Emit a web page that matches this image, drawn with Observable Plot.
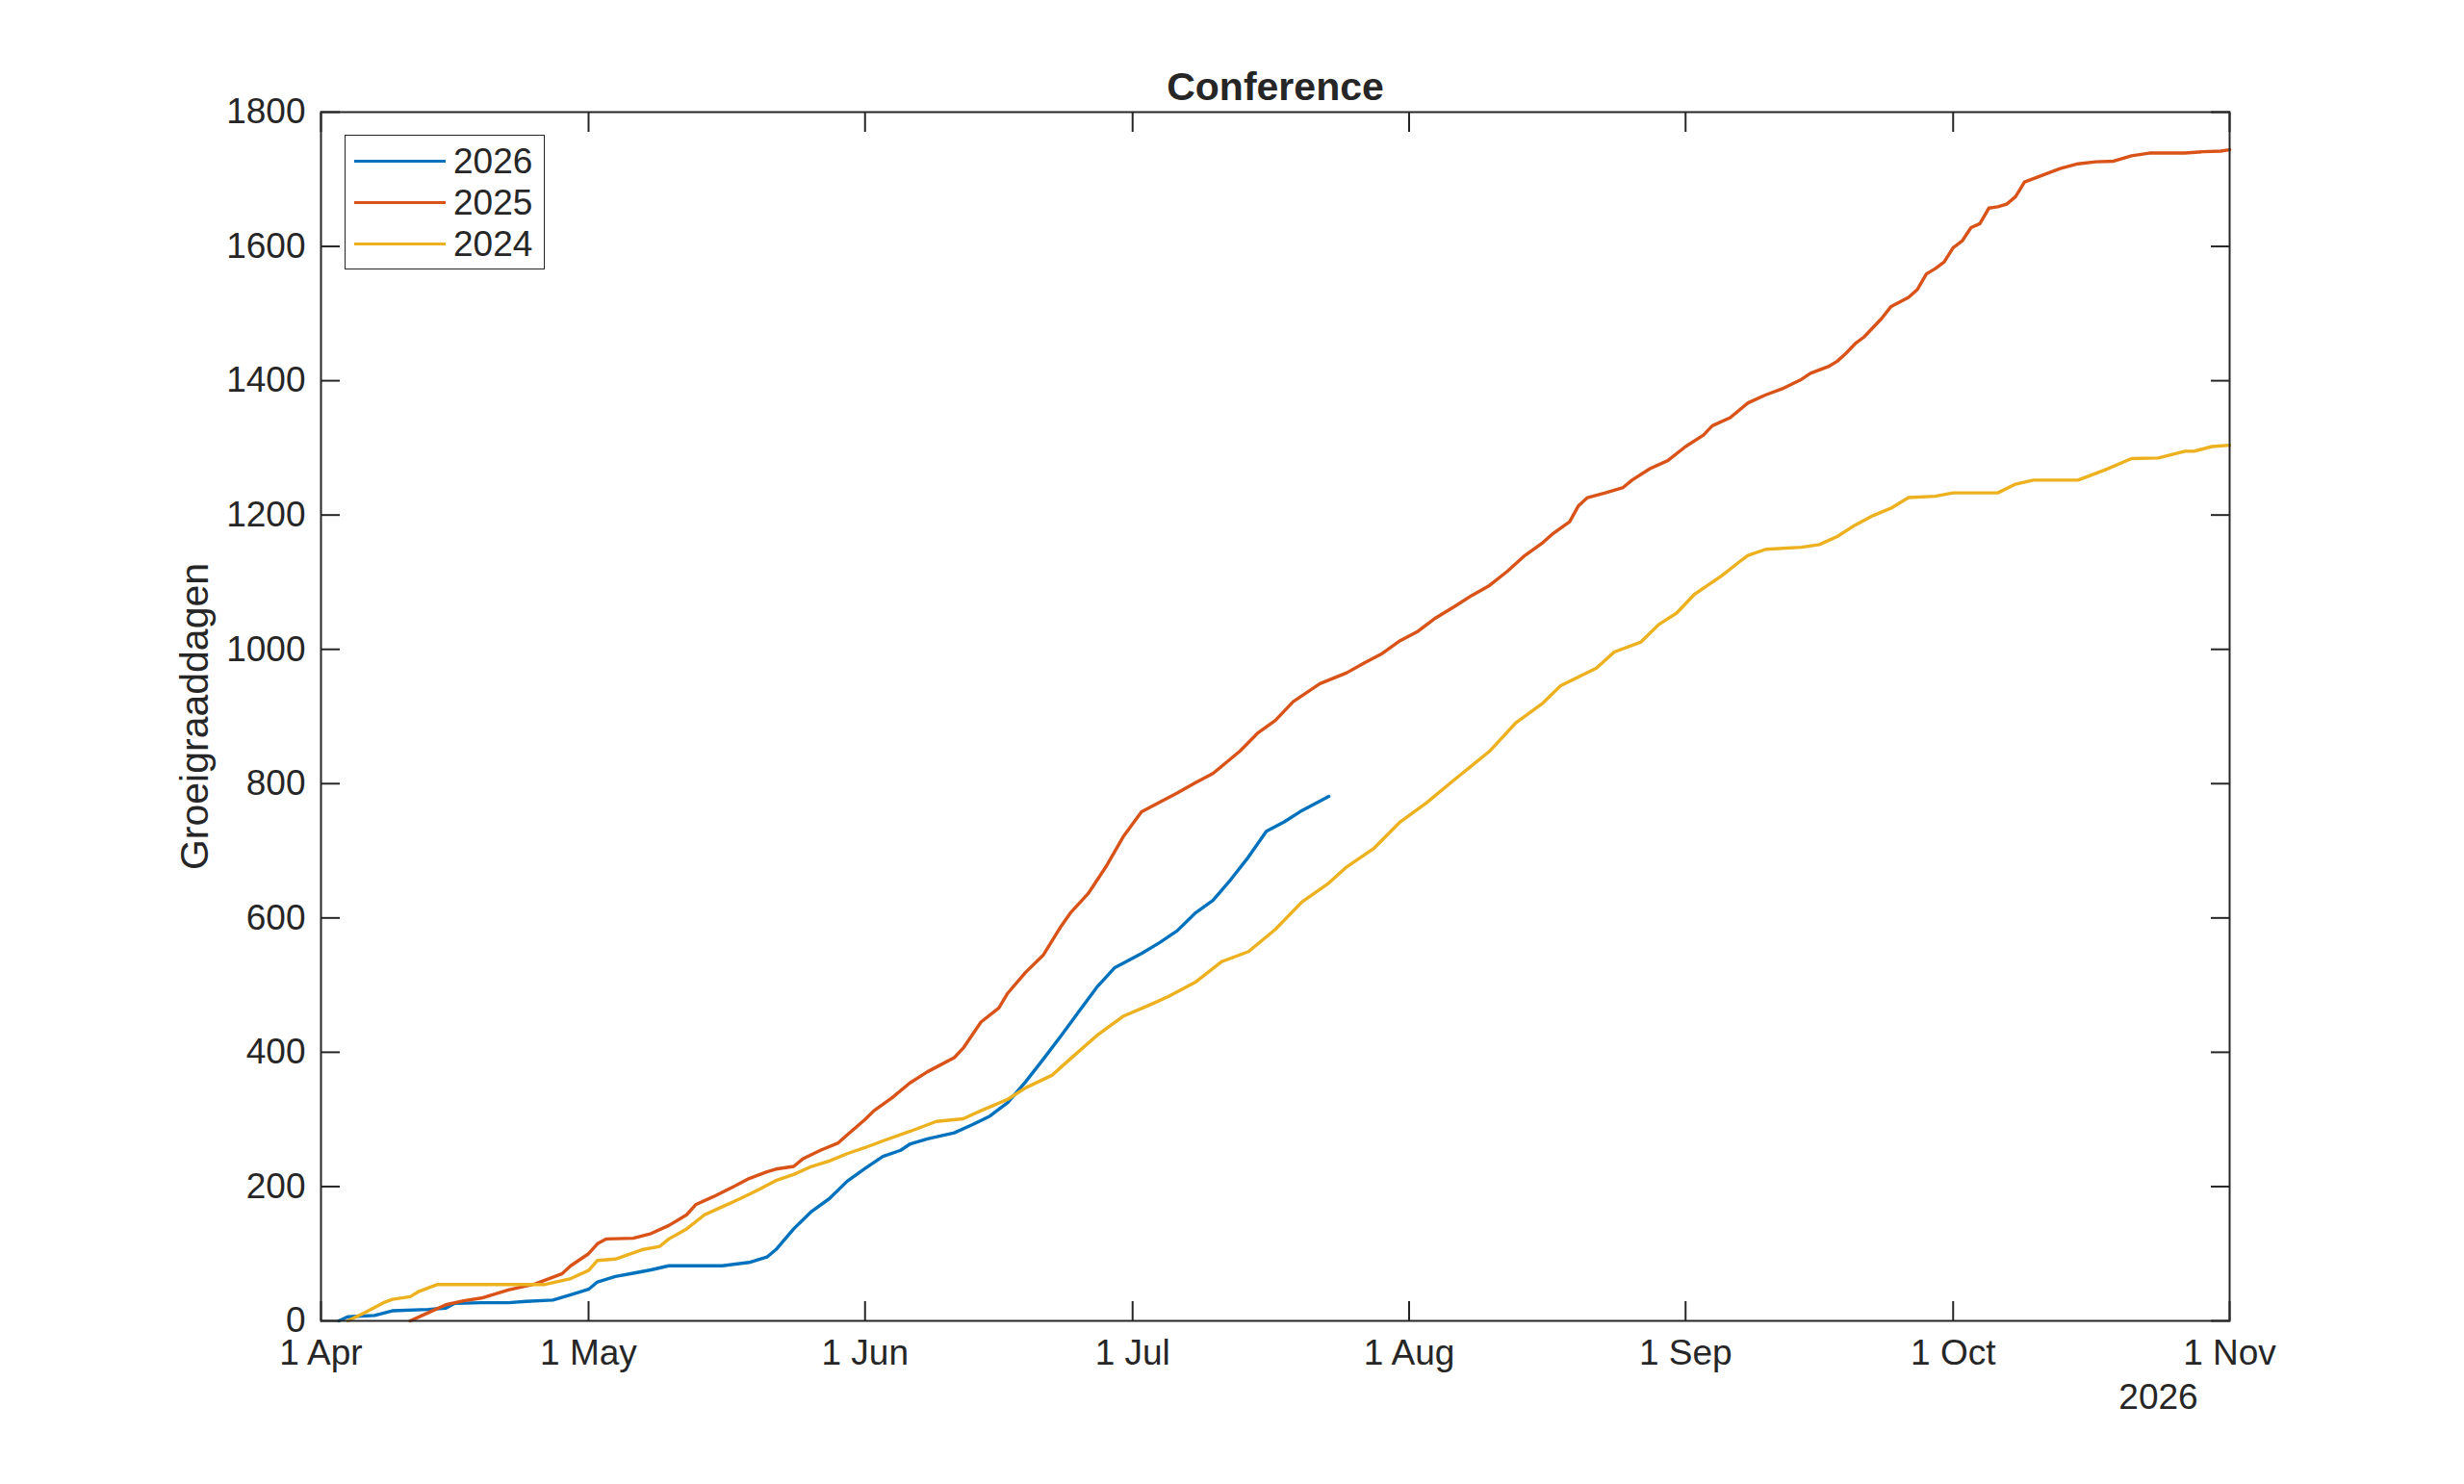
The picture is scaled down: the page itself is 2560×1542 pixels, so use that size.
<!DOCTYPE html>
<html>
<head>
<meta charset="utf-8">
<script src="https://cdn.jsdelivr.net/npm/d3@7"></script>
<script src="https://cdn.jsdelivr.net/npm/@observablehq/plot@0.6"></script>
<style>
  body { margin: 0; background: #fff; font-family: "Liberation Sans", Arial, sans-serif; }
  #wrap { position: relative; width: 2560px; height: 1542px; background: #fff; }
  #legend { position: absolute; left: 358px; top: 140px; width: 208px; height: 140px;
            border: 1.5px solid #262626; background: #fff; box-sizing: border-box; }
  .row { position: absolute; left: 0; height: 43px; line-height: 43px; width: 100%; }
  .sw { position: absolute; left: 9px; top: 20px; width: 95px; height: 3px; }
  .lbl { position: absolute; left: 112px; top: 0; font-size: 37px; color: #262626; }
</style>
</head>
<body>
<div id="wrap"><div id="legend"></div></div>
<script>
const title = "Conference";
const yLabel = "Groeigraaddagen";
const yearLabel = "2026";
const seriesNames = ["2026", "2025", "2024"];
const seriesColors = ["#0072BD", "#D95319", "#EDB120"];
const startDate = "2026-04-01";
const endDate = "2026-11-01";
const yTicks = [0, 200, 400, 600, 800, 1000, 1200, 1400, 1600, 1800];

// days since 1 April, cumulative growing degree days
const days2026 = [2,3,6,8,12,14,15,18,21,23,26,28,30,31,33,35,37,39,45,48,50,51,53,55,57,59,61,63,65,66,68,71,73,75,77,79,81,83,85,87,89,92,94,96,98,100,102,104,106,108,110,113];
const gdd2026  = [0,6,8,15,17,19,26,27,27,29,31,39,47,58,66,71,76,82,82,87,95,106,137,163,182,208,227,245,254,263,271,280,292,305,325,356,390,425,461,497,526,547,563,581,607,626,657,691,729,743,760,781];

const days2025 = [10,12,14,16,18,21,24,25,27,28,30,31,32,35,37,39,41,42,44,46,48,50,51,53,54,56,58,59,61,62,64,66,68,71,72,74,76,77,79,81,83,84,86,88,90,92,94,96,98,100,103,105,107,109,112,115,117,119,121,123,125,127,129,131,133,135,137,138,140,141,142,144,146,147,149,151,153,155,156,158,160,162,164,166,167,169,170,171,172,173,174,175,176,178,179,180,181,182,183,184,185,186,187,188,189,190,191,193,195,197,199,201,203,205,209,211,213,214];
const gdd2025  = [0,12,24,30,34,46,55,60,70,82,100,115,122,123,130,142,158,173,185,198,212,222,226,230,241,254,265,277,300,313,332,354,371,392,406,445,466,488,519,545,588,607,636,676,722,758,772,786,801,815,848,875,894,922,949,965,980,994,1013,1027,1047,1063,1080,1095,1116,1140,1159,1171,1190,1214,1226,1233,1241,1252,1269,1281,1302,1319,1333,1345,1367,1379,1389,1402,1411,1421,1429,1441,1455,1465,1479,1493,1510,1524,1536,1559,1567,1577,1598,1608,1628,1634,1657,1659,1663,1674,1696,1706,1716,1723,1726,1727,1735,1739,1739,1741,1742,1744];

const days2024 = [3,5,7,8,10,11,13,25,28,30,31,33,36,38,39,41,43,45,47,49,51,53,55,57,59,61,63,66,69,72,74,77,79,82,84,87,90,93,95,98,101,104,107,110,113,115,118,121,124,127,131,134,137,139,143,145,148,150,152,154,157,159,160,162,166,168,170,172,174,176,178,181,183,188,190,192,197,200,203,206,209,210,212,214];
const gdd2024  = [0,13,27,32,36,44,54,54,63,75,90,92,106,111,122,137,158,170,182,195,209,218,230,238,249,258,268,282,297,301,313,330,347,366,390,425,454,471,483,504,535,550,583,624,652,676,703,743,772,805,848,891,920,946,972,996,1011,1037,1054,1082,1109,1130,1140,1149,1152,1156,1168,1185,1199,1210,1226,1228,1233,1233,1246,1252,1252,1267,1284,1285,1295,1295,1302,1304];

const seriesDays = [days2026, days2025, days2024];
const seriesValues = [gdd2026, gdd2025, gdd2024];

const t0 = new Date(startDate + "T00:00:00Z");
const t1 = new Date(endDate + "T00:00:00Z");
const toDate = d => new Date(t0.getTime() + d * 86400000);
const rows = [];
seriesNames.forEach((name, s) => {
  seriesDays[s].forEach((d, i) => rows.push({date: toDate(d), value: seriesValues[s][i], name}));
});
const monthTicks = d3.utcMonth.range(t0, new Date(t1.getTime() + 1));

const ink = "#262626";
const font = "'Liberation Sans', Arial, sans-serif";

const chart = Plot.plot({
  width: 2560,
  height: 1542,
  marginLeft: 333,
  marginRight: 244,
  marginTop: 116,
  marginBottom: 170,
  style: {fontFamily: font, fontSize: "37px", color: ink, background: "#fff"},
  x: {type: "utc", domain: [t0, t1]},
  y: {domain: [0, 1800]},
  color: {domain: seriesNames, range: seriesColors},
  marks: [
    Plot.line(rows, {x: "date", y: "value", z: "name", stroke: "name", strokeWidth: 3.4, strokeLinejoin: "round"}),
    Plot.frame({stroke: ink, strokeWidth: 2}),
    Plot.axisX(monthTicks, {anchor: "bottom", tickSize: 0, tickPadding: 19, tickFormat: d3.utcFormat("%-d %b"), label: null, fontSize: 37, fill: ink}),
    Plot.axisX(monthTicks, {anchor: "bottom", tickSize: -20, tickFormat: () => "", label: null, stroke: ink, strokeWidth: 2}),
    Plot.axisX(monthTicks, {anchor: "top", tickSize: -20, tickFormat: () => "", label: null, stroke: ink, strokeWidth: 2}),
    Plot.axisY(yTicks, {anchor: "left", tickSize: 0, tickPadding: 16, tickFormat: d => String(d), label: null, fontSize: 37, fill: ink}),
    Plot.axisY(yTicks, {anchor: "left", tickSize: -20, tickFormat: () => "", label: null, stroke: ink, strokeWidth: 2}),
    Plot.axisY(yTicks, {anchor: "right", tickSize: -20, tickFormat: () => "", label: null, stroke: ink, strokeWidth: 2}),
    Plot.text([title], {text: d => d, frameAnchor: "top", dy: -26, lineAnchor: "middle", textAnchor: "middle", fontWeight: "bold", fontSize: 41, fill: ink}),
    Plot.text([yLabel], {text: d => d, frameAnchor: "left", dx: -131, rotate: -90, lineAnchor: "middle", textAnchor: "middle", fontSize: 41, fill: ink}),
    Plot.text([yearLabel], {text: d => d, frameAnchor: "bottom-right", dx: -74, dy: 80, lineAnchor: "middle", textAnchor: "middle", fontSize: 37, fill: ink})
  ]
});
const wrap = document.getElementById("wrap");
wrap.insertBefore(chart, wrap.firstChild);

const legend = document.getElementById("legend");
seriesNames.forEach((name, i) => {
  const row = document.createElement("div");
  row.className = "row";
  row.style.top = (5 + 43 * i) + "px";
  const sw = document.createElement("div");
  sw.className = "sw";
  sw.style.background = seriesColors[i];
  const lbl = document.createElement("div");
  lbl.className = "lbl";
  lbl.textContent = name;
  row.appendChild(sw);
  row.appendChild(lbl);
  legend.appendChild(row);
});
</script>
</body>
</html>
